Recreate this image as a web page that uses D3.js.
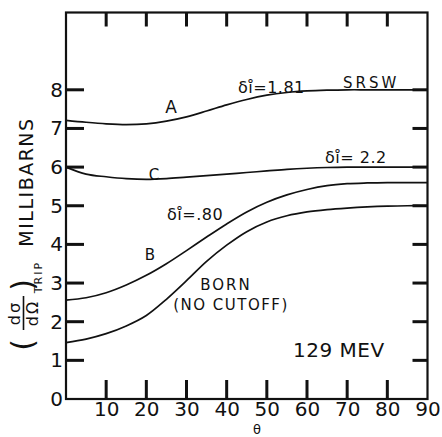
<!DOCTYPE html>
<html>
<head>
<meta charset="utf-8">
<script src="https://cdn.jsdelivr.net/npm/d3@7"></script>
<style>
  body { margin: 0; background: #fff; }
  svg text { font-family: "DejaVu Sans", sans-serif; fill: #111; }
</style>
</head>
<body>
<div id="chart"></div>
<script>
// angle in degrees
const theta = [0, 5, 10, 15, 20, 25, 30, 35, 40, 45, 50, 55, 60, 65, 70, 75, 80, 85, 90];

// curve A, SRSW, delta = 1.81
const curveA = [7.21, 7.16, 7.12, 7.10, 7.12, 7.19, 7.30, 7.45, 7.61, 7.75, 7.86, 7.93, 7.97, 7.99, 8.0, 8.0, 8.0, 8.0, 8.0];
// curve C, delta = 2.2
const curveC = [6.0, 5.82, 5.75, 5.70, 5.68, 5.70, 5.74, 5.78, 5.82, 5.86, 5.90, 5.94, 5.97, 5.99, 6.0, 6.0, 6.0, 6.0, 6.0];
// curve B, delta = .80
const curveB = [2.56, 2.62, 2.75, 2.95, 3.20, 3.50, 3.84, 4.19, 4.53, 4.84, 5.09, 5.28, 5.42, 5.52, 5.57, 5.59, 5.60, 5.60, 5.60];
// Born, no cutoff
const curveBorn = [1.46, 1.55, 1.69, 1.89, 2.16, 2.58, 3.06, 3.56, 3.98, 4.33, 4.58, 4.74, 4.84, 4.90, 4.94, 4.97, 4.99, 5.0, 5.0];

const xTicks = [10, 20, 30, 40, 50, 60, 70, 80, 90];
const xTopTicks = [10, 20, 30, 40, 50, 60, 70, 80];
const yTicks = [0, 1, 2, 3, 4, 5, 6, 7, 8];
const yInnerTicks = [1, 2, 3, 4, 5, 6, 7, 8];

const MARGIN = { LEFT: 66, TOP: 12.5, RIGHT: 14.5, BOTTOM: 38 };
const W = 442, H = 437;
const WIDTH = W - MARGIN.LEFT - MARGIN.RIGHT;
const HEIGHT = H - MARGIN.TOP - MARGIN.BOTTOM;

const svgRoot = d3.select("#chart").append("svg")
    .attr("width", W)
    .attr("height", H);

const svg = svgRoot.append("g")
    .attr("transform", `translate(${MARGIN.LEFT}, ${MARGIN.TOP})`);

const x = d3.scaleLinear().domain([0, 90]).range([0, WIDTH]);
const y = d3.scaleLinear().domain([0, 10]).range([HEIGHT, 0]);

// frame
svg.append("rect")
    .attr("x", 0).attr("y", 0)
    .attr("width", WIDTH).attr("height", HEIGHT)
    .style("fill", "none")
    .attr("stroke", "#111")
    .attr("stroke-width", 2.2);

const line = d3.line()
    .x((d, i) => x(theta[i]))
    .y(d => y(d))
    .curve(d3.curveCatmullRom.alpha(0.5));

[curveA, curveC, curveB, curveBorn].forEach(c => {
    svg.append("path")
        .datum(c)
        .attr("d", line)
        .style("fill", "none")
        .attr("stroke", "#111")
        .attr("stroke-width", 1.7);
});

// tick labels
svg.append("g")
    .attr("transform", `translate(0, ${HEIGHT})`)
    .call(d3.axisBottom(x).tickValues(xTicks).tickSize(0).tickPadding(3).tickFormat(d3.format("d")))
    .call(g => g.select(".domain").remove());

svg.append("g")
    .call(d3.axisLeft(y).tickValues(yTicks).tickSize(0).tickPadding(3).tickFormat(d3.format("d")))
    .call(g => g.select(".domain").remove());

svg.selectAll(".tick text")
    .attr("fill", "#111")
    .style("font-size", "20px")
    .style("font-family", "DejaVu Sans, sans-serif");

// tick marks pointing inward, filled rects
const TW = 3;
svg.selectAll(".tk-bottom")
    .data(xTicks.slice(0, -1))
    .enter().append("rect")
    .attr("class", "tk-bottom")
    .attr("x", d => x(d) - TW / 2).attr("y", HEIGHT - 19)
    .attr("width", TW).attr("height", 19)
    .attr("fill", "#111");

svg.selectAll(".tk-top")
    .data(xTopTicks)
    .enter().append("rect")
    .attr("class", "tk-top")
    .attr("x", d => x(d) - TW / 2).attr("y", 0)
    .attr("width", TW).attr("height", 14)
    .attr("fill", "#111");

svg.selectAll(".tk-left")
    .data(yInnerTicks)
    .enter().append("rect")
    .attr("class", "tk-left")
    .attr("x", 0).attr("y", d => y(d) - TW / 2)
    .attr("width", 18).attr("height", TW)
    .attr("fill", "#111");

svg.selectAll(".tk-right")
    .data(yInnerTicks)
    .enter().append("rect")
    .attr("class", "tk-right")
    .attr("x", WIDTH - 15).attr("y", d => y(d) - TW / 2)
    .attr("width", 15).attr("height", TW)
    .attr("fill", "#111");

// labels (screen coords)
function label(txt, px, py, size, anchor, spacing) {
    svgRoot.append("text")
        .attr("x", px).attr("y", py)
        .attr("text-anchor", anchor || "start")
        .style("font-size", size + "px")
        .style("letter-spacing", (spacing || 0) + "px")
        .text(txt);
}

label("A", 171, 113, 17, "middle");
label("C", 154, 180, 15, "middle");
label("B", 150, 260, 15, "middle");
label("SRSW", 343, 88, 15, "start", 3);
label("BORN", 226, 290, 15, "middle", 2);
label("(NO CUTOFF)", 231, 310, 15, "middle", 1.5);
label("129 MEV", 293, 357, 20, "start", 0.5);

// delta labels: delta, dotless i with a ring on top
label("δı\u030A=1.81", 238, 93, 16, "start", 0.5);
label("δı\u030A= 2.2", 325, 163, 16, "start", 0.5);
label("δı\u030A=.80", 167, 220, 16, "start", 0.5);

// y axis title, rotated
const ylab = svgRoot.append("g").attr("transform", "rotate(-90)");
ylab.append("text")
    .attr("x", -182).attr("y", 33)
    .attr("text-anchor", "middle")
    .style("font-size", "19px")
    .style("letter-spacing", "1.5px")
    .text("MILLIBARNS");
ylab.append("text")
    .attr("x", -277).attr("y", 42)
    .attr("text-anchor", "middle")
    .style("font-size", "11px")
    .style("letter-spacing", "2px")
    .text("TRIP");
ylab.append("text")
    .attr("x", -345).attr("y", 33)
    .attr("text-anchor", "middle")
    .style("font-size", "30px")
    .text("(");
ylab.append("text")
    .attr("x", -285).attr("y", 33)
    .attr("text-anchor", "middle")
    .style("font-size", "30px")
    .text(")");
ylab.append("text")
    .attr("x", -313).attr("y", 20)
    .attr("text-anchor", "middle")
    .style("font-size", "16px")
    .style("letter-spacing", "2px")
    .text("dσ");
ylab.append("rect")
    .attr("x", -330).attr("y", 22.7)
    .attr("width", 34).attr("height", 1.6)
    .attr("fill", "#111");
ylab.append("text")
    .attr("x", -313).attr("y", 38)
    .attr("text-anchor", "middle")
    .style("font-size", "16px")
    .style("letter-spacing", "2px")
    .text("dΩ");

// x axis title
label("θ", 257, 434, 13, "middle");
</script>
</body>
</html>
